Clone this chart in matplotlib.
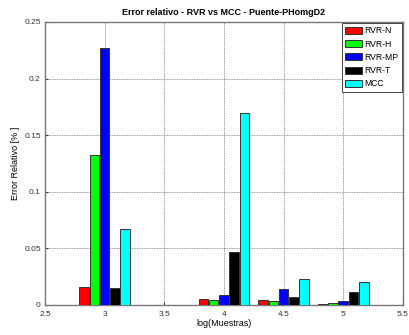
import numpy as np
import matplotlib
matplotlib.use('Agg')
import matplotlib.pyplot as plt

# log10 of the number of samples
log_muestras = [3.0, 4.0, 4.5, 5.0]

# relative error per method
rvr_n = [0.0162, 0.0050, 0.0047, 0.0009]
rvr_h = [0.1325, 0.0046, 0.0033, 0.0015]
rvr_mp = [0.2273, 0.0086, 0.0141, 0.0033]
rvr_t = [0.0150, 0.0470, 0.0073, 0.0115]
mcc = [0.0674, 0.1693, 0.0227, 0.0200]

series = [rvr_n, rvr_h, rvr_mp, rvr_t, mcc]
labels = ['RVR-N', 'RVR-H', 'RVR-MP', 'RVR-T', 'MCC']
colours = ['#ff0000', '#00ff00', '#0000ff', '#000000', '#00ffff']

plt.rcParams['font.family'] = ['Liberation Sans', 'DejaVu Sans']

fig = plt.figure(figsize=(4.09, 3.35), dpi=100)
ax = fig.add_axes([0.110, 0.0896, 0.875, 0.845])

pitch = 0.086
width = 0.08
x = np.array(log_muestras)
for i, (vals, lab, col) in enumerate(zip(series, labels, colours)):
    ax.bar(x + (i - 2) * pitch, vals, width=width, color=col,
           edgecolor='#333333', linewidth=0.7, label=lab, zorder=3)

ax.set_xlim(2.5, 5.5)
ax.set_ylim(0, 0.25)
ax.set_xticks([2.5, 3, 3.5, 4, 4.5, 5, 5.5])
ax.set_xticklabels(['2.5', '3', '3.5', '4', '4.5', '5', '5.5'])
ax.set_yticks([0, 0.05, 0.1, 0.15, 0.2, 0.25])
ax.set_yticklabels(['0', '0.05', '0.1', '0.15', '0.2', '0.25'])
ax.grid(True, linestyle=(0, (1, 1)), color='#777777', linewidth=0.6, zorder=0)
ax.tick_params(direction='in', length=2, labelsize=6, colors='#333333')
ax.tick_params(axis='x', pad=4)
ax.tick_params(axis='y', pad=3)
for s in ax.spines.values():
    s.set_color('#777777')
    s.set_linewidth(1.0)

ax.set_title('Error relativo - RVR vs MCC - Puente-PHomgD2',
             fontsize=6.5, fontweight='bold', pad=5)
ax.set_xlabel('log(Muestras)', fontsize=6.5, labelpad=1)
ax.set_ylabel('Error Relativo [% ]', fontsize=6.5, labelpad=3)

leg = ax.legend(loc='upper right', fontsize=6.2, fancybox=False,
                edgecolor='#444444', framealpha=1, borderaxespad=0.1,
                handlelength=1.9, handleheight=0.85, labelspacing=0.5,
                handletextpad=0.3, borderpad=0.4)
leg.get_frame().set_linewidth(0.7)

fig.savefig('out.png', dpi=100)
